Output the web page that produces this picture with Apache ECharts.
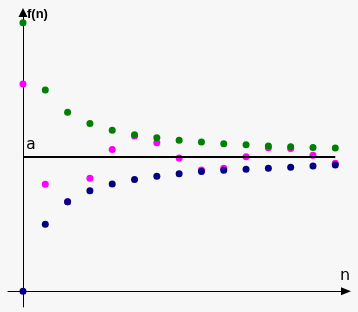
<!DOCTYPE html>
<html>
<head>
<meta charset="utf-8">
<script src="https://cdn.jsdelivr.net/npm/echarts@6/dist/echarts.min.js"></script>
<style>
html,body{margin:0;padding:0;background:#f7f7f7;}
#c{width:358px;height:312px;}
</style>
</head>
<body>
<div id="c"></div>
<script>
// n values (categories on a numeric axis)
const nValues = [0,1,2,3,4,5,6,7,8,9,10,11,12,13,14];
// limit a
const limitA = 6;
// sequence decreasing towards a (green)
const greenSeq = [12, 9, 8, 7.5, 7.2, 7, 6.86, 6.75, 6.67, 6.6, 6.55, 6.5, 6.46, 6.43, 6.4];
// sequence increasing towards a (navy)
const navySeq = [0, 3, 4, 4.5, 4.8, 5, 5.14, 5.25, 5.35, 5.41, 5.46, 5.5, 5.55, 5.6, 5.64];
// oscillating sequence (magenta)
const magentaSeq = [9.26, 4.78, 4, 5.05, 6.34, 6.94, 6.64, 5.96, 5.42, 5.5, 6.01, 6.42, 6.38, 6.08, 5.72];
// labels
const yName = 'f(n)';
const xName = 'n';
const lineName = 'a';

const chart = echarts.init(document.getElementById('c'), null, {renderer:'canvas'});
const pairs = arr => nValues.map((n,i)=>[n, arr[i]]);
const dot = (data, color) => ({
  type:'scatter', data, symbol:'circle', symbolSize:7,
  itemStyle:{color, opacity:1}, emphasis:{disabled:true}, silent:true, animation:false
});
chart.setOption({
  backgroundColor:'#f7f7f7',
  animation:false,
  grid:{left:8, right:12, top:12.5, bottom:5, containLabel:false},
  xAxis:{
    type:'value', min:-0.672, max:14.48,
    axisLine:{onZero:true, lineStyle:{color:'#000', width:1}, symbol:['none','triangle'], symbolSize:[8,10]},
    axisTick:{show:false}, axisLabel:{show:false}, splitLine:{show:false}
  },
  yAxis:{
    type:'value', min:-0.70, max:12.46,
    axisLine:{onZero:true, lineStyle:{color:'#000', width:1}, symbol:['none','triangle'], symbolSize:[9,9]},
    axisTick:{show:false}, axisLabel:{show:false}, splitLine:{show:false}
  },
  series:[
    {type:'line', data:[[nValues[0], limitA],[nValues[nValues.length-1], limitA]],
     symbol:'none', lineStyle:{color:'#000', width:2}, silent:true, animation:false},
    dot(pairs(magentaSeq), '#ff00ff'),
    dot(pairs(greenSeq), '#008000'),
    dot(pairs(navySeq), '#000080')
  ],
  graphic:[
    {type:'text', left:27, top:8, style:{text:yName, font:'bold 13px "Liberation Sans", Arial, sans-serif', fill:'#000'}},
    {type:'text', left:340, top:268, style:{text:xName, font:'16px "DejaVu Sans", sans-serif', fill:'#000'}},
    {type:'text', left:26, top:137, style:{text:lineName, font:'16px "DejaVu Sans Mono", monospace', fill:'#000'}}
  ]
});
</script>
</body>
</html>
